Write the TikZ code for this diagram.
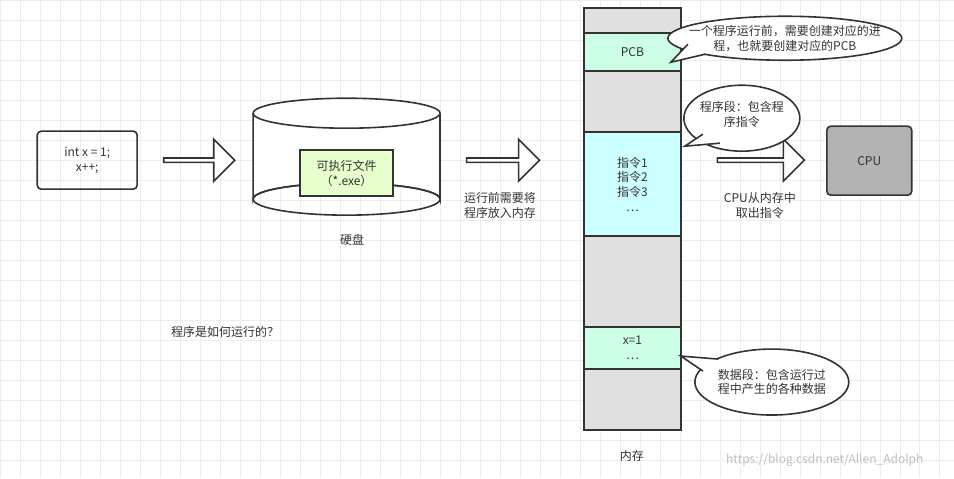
\documentclass[tikz,border=0pt]{standalone}
\usepackage{fontspec}
\setmainfont{Noto Sans CJK SC}
\usetikzlibrary{shapes.geometric, shapes.arrows, positioning, calc}
\definecolor{pcbgreen}{HTML}{CCFFE6}
\definecolor{textcyan}{HTML}{CCFFFF}
\definecolor{exefill}{HTML}{E6FFCC}

\begin{document}
\begin{tikzpicture}[x=0.75pt, y=-0.75pt, font=\fontsize{9}{11}\selectfont,
    seg/.style={draw=black!80, line width=1.2pt, align=center, text=black!80},
    bigarrow/.style={single arrow, draw=black!80, fill=white, line width=1.2pt, minimum width=42*0.75pt, single arrow head extend=7*0.75pt, inner sep=0pt},
    label/.style={align=center, text=black!80},
    bubble/.style={draw=black!80, fill=white, line width=1.2pt}
]
    % background grid
    \fill[white] (0,0) rectangle (954,478);
    \foreach \gx in {0,20,...,940} \draw[black!7] (\gx,0) -- (\gx,478);
    \foreach \gy in {0,20,...,470} \draw[black!7] (0,\gy) -- (954,\gy);
    \useasboundingbox (0,0) rectangle (954,478);

    % program
    \node[seg, rounded corners=3pt, minimum width=100*0.75pt, minimum height=58*0.75pt] (code) at (87,160) {int x = 1;\\x++;};
    \node[bigarrow, minimum height=71*0.75pt] (a1) at (198,160) {};

    % disk
    \draw[bubble] (253,113) -- (253,199) arc[start angle=180, end angle=360, x radius=93.5, y radius=16] -- (440,113);
    \draw[bubble] (346.5,113) ellipse[x radius=93.5, y radius=15];
    \draw[black!80, line width=1.2pt] (346.5,199) ellipse[x radius=93.5, y radius=16];
    \node[seg, fill=exefill, minimum width=93*0.75pt, minimum height=46*0.75pt] (exe) at (346.5,173) {可执行文件\\（*.exe）};
    \node[label] (disk) at (352,240) {硬盘};
    \node[bigarrow, minimum height=73*0.75pt] (a2) at (502,160) {};
    \node[label] (load) at (500,205) {运行前需要将\\程序放入内存};
    \node[label] (title) at (225,332) {程序是如何运行的？};

    % memory
    \node[seg, fill=black!12, minimum width=97*0.75pt, minimum height=25*0.75pt] (m1) at (632.5,20.5) {};
    \node[seg, fill=pcbgreen, minimum width=97*0.75pt, minimum height=38*0.75pt] (pcb) at (632.5,52) {PCB};
    \node[seg, fill=black!12, minimum width=97*0.75pt, minimum height=61*0.75pt] (m2) at (632.5,101.5) {};
    \node[seg, fill=textcyan, minimum width=97*0.75pt, minimum height=104*0.75pt] (text) at (632.5,184) {指令1\\指令2\\指令3\\…};
    \node[seg, fill=black!12, minimum width=97*0.75pt, minimum height=91*0.75pt] (m3) at (632.5,281.5) {};
    \node[seg, fill=pcbgreen, minimum width=97*0.75pt, minimum height=42*0.75pt] (data) at (632.5,348) {x=1\\…};
    \node[seg, fill=black!12, minimum width=97*0.75pt, minimum height=61*0.75pt] (m4) at (632.5,399.5) {};
    \node[label] (mem) at (632,456) {内存};

    % cpu
    \node[bigarrow, minimum height=87*0.75pt] (a3) at (760,160) {};
    \node[label] (fetch) at (760,205) {CPU从内存中\\取出指令};
    \node[seg, rounded corners=3pt, fill=black!30, minimum width=85*0.75pt, minimum height=69*0.75pt] (cpu) at (869.5,160.5) {CPU};

    % callouts
    \draw[bubble] (785,38) ellipse[x radius=117, y radius=22];
    \fill[white] (688,44) -- (671,62) -- (705,54) -- cycle;
    \draw[bubble] (688,44) -- (671,62) -- (705,54);
    \node[label] (c1) at (785,38) {一个程序运行前，需要创建对应的进\\程，也就要创建对应的PCB};
    \draw[bubble] (742,118) ellipse[x radius=58, y radius=33];
    \fill[white] (703,134) -- (685,146) -- (720,143) -- cycle;
    \draw[bubble] (703,134) -- (685,146) -- (720,143);
    \node[label] (c2) at (742,114) {程序段：包含程\\序指令};
    \draw[bubble] (772,382) ellipse[x radius=77, y radius=33];
    \fill[white] (720,360) -- (681,356) -- (703,370) -- cycle;
    \draw[bubble] (718,359) -- (681,356) -- (703,371);
    \node[label] (c3) at (772,382) {数据段：包含运行过\\程中产生的各种数据};

    \node[text=black!25] (wm) at (825,460) {https://blog.csdn.net/Allen\_Adolph};
\end{tikzpicture}
\end{document}
